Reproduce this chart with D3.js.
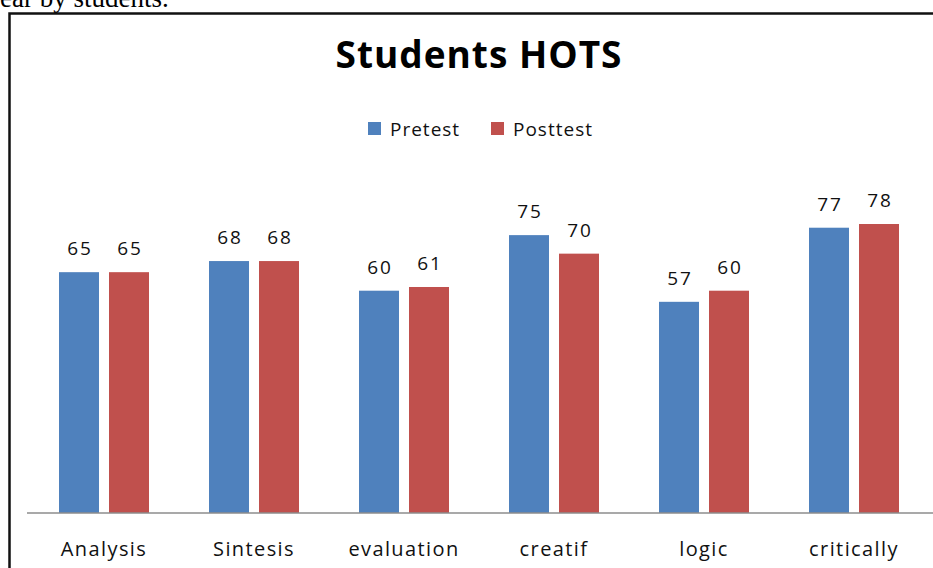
<!DOCTYPE html>
<html>
<head>
<meta charset="utf-8">
<script src="https://cdn.jsdelivr.net/npm/d3@7"></script>
<style>
  body { margin: 0; background: #fff; }
  svg { display: block; }
</style>
</head>
<body>
<svg id="chart" width="933" height="568"></svg>
<script>
const categories = ['Analysis', 'Sintesis', 'evaluation', 'creatif', 'logic', 'critically'];
const seriesNames = ['Pretest', 'Posttest'];
const pretest = [65, 68, 60, 75, 57, 77];
const posttest = [65, 68, 61, 70, 60, 78];
const colors = ['#4f81bd', '#c0504d'];

const svg = d3.select('#chart');
const font = "'Open Sans', 'Noto Sans', sans-serif";

// leftover line of the page text above the figure
svg.append('text')
  .attr('x', 0).attr('y', 7)
  .attr('font-family', "'Liberation Serif', serif")
  .attr('font-size', 27)
  .text('ear by students.');

// frame of the figure
svg.append('rect')
  .attr('x', 9.5).attr('y', 13.5)
  .attr('width', 1000).attr('height', 1000)
  .attr('fill', 'none').attr('stroke', '#111').attr('stroke-width', 2.5);

const x0 = d3.scaleBand().domain(categories).range([29, 929])
  .paddingInner(0.4).paddingOuter(0.2);
const x1 = d3.scaleBand().domain(seriesNames).range([0, x0.bandwidth()])
  .paddingInner(0.2);
const y = d3.scaleLinear().domain([0, 80]).range([513, 216.6]);

const rows = categories.map((c, i) => ({ cat: c, vals: [pretest[i], posttest[i]] }));

const groups = svg.selectAll('.grp')
  .data(rows)
  .enter()
  .append('g')
  .attr('transform', d => `translate(${x0(d.cat)},0)`);

groups.selectAll('rect')
  .data(d => d.vals.map((v, j) => ({ s: seriesNames[j], v, j })))
  .enter()
  .append('rect')
  .attr('x', d => x1(d.s))
  .attr('y', d => y(d.v))
  .attr('width', x1.bandwidth())
  .attr('height', d => y(0) - y(d.v))
  .attr('fill', d => colors[d.j]);

groups.selectAll('.lbl')
  .data(d => d.vals.map((v, j) => ({ s: seriesNames[j], v, j })))
  .enter()
  .append('text')
  .attr('x', d => x1(d.s) + x1.bandwidth() / 2 + 1)
  .attr('y', d => y(d.v) - 17)
  .attr('text-anchor', 'middle')
  .attr('font-family', font)
  .attr('font-size', 19)
  .attr('letter-spacing', 2)
  .attr('fill', '#111')
  .text(d => d.v);

// x axis
const xAxis = svg.append('g')
  .attr('transform', `translate(0,${y(0)})`)
  .call(d3.axisBottom(x0).tickSize(0).tickPadding(0));
xAxis.select('.domain').remove();
xAxis.append('line')
  .attr('x1', 27).attr('x2', 933)
  .attr('stroke', '#8c8c8c').attr('stroke-width', 1.5);
xAxis.selectAll('.tick text')
  .attr('y', 43)
  .attr('dy', 0)
  .attr('font-family', font)
  .attr('font-size', 20)
  .attr('letter-spacing', 1.4)
  .attr('fill', '#111');

// title
svg.append('text')
  .attr('x', 479).attr('y', 68)
  .attr('text-anchor', 'middle')
  .attr('font-family', font)
  .attr('font-weight', 'bold')
  .attr('font-size', 37)
  .attr('letter-spacing', 1)
  .attr('fill', '#000')
  .text('Students HOTS');

// legend
const legendX = [368, 491];
const legend = svg.selectAll('.leg')
  .data(seriesNames)
  .enter()
  .append('g')
  .attr('transform', (d, i) => `translate(${legendX[i]},122)`);
legend.append('rect')
  .attr('width', 13).attr('height', 13)
  .attr('fill', (d, i) => colors[i]);
legend.append('text')
  .attr('x', 22).attr('y', 14)
  .attr('font-family', font)
  .attr('font-size', 19)
  .attr('letter-spacing', 1)
  .attr('fill', '#111')
  .text(d => d);
</script>
</body>
</html>
